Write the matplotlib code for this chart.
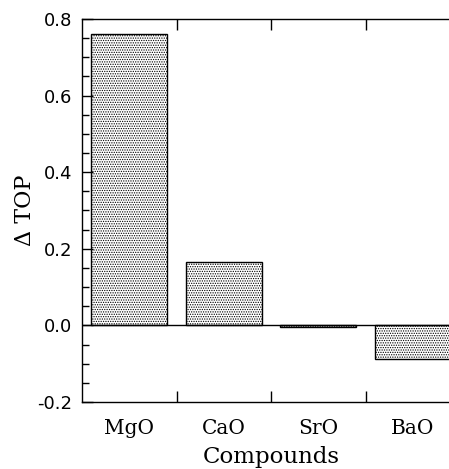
import numpy as np
import matplotlib
matplotlib.use('agg')
import matplotlib.pyplot as plt
from matplotlib.ticker import MultipleLocator, FixedLocator

# data
compounds = ['MgO', 'CaO', 'SrO', 'BaO']
delta_top = [0.761, 0.165, -0.004, -0.087]
ytick_vals = [-0.2, 0.0, 0.2, 0.4, 0.6, 0.8]

plt.rcParams['hatch.linewidth'] = 0.6
plt.rcParams['hatch.color'] = '#555555'

fig = plt.figure(figsize=(4.49, 4.69), dpi=100)
ax = fig.add_axes([82 / 449, 1 - 402 / 469, 378 / 449, 383 / 469])

x = np.arange(len(compounds))
ax.bar(x, delta_top, width=0.8, facecolor='white', edgecolor='black',
       linewidth=1.0, hatch='.......')
ax.axhline(0, color='black', linewidth=1.0)

ax.set_xlim(-0.5, 3.5)
ax.set_ylim(-0.2, 0.8)
ax.spines['right'].set_visible(False)
for s in ['left', 'top', 'bottom']:
    ax.spines[s].set_linewidth(1.0)

ax.set_yticks(ytick_vals)
ax.set_yticklabels(['%.1f' % v for v in ytick_vals],
                   family='DejaVu Sans', fontsize=13)
ax.yaxis.set_minor_locator(MultipleLocator(0.05))
ax.tick_params(axis='y', which='major', direction='in', length=8, width=1, pad=7)
ax.tick_params(axis='y', which='minor', direction='in', length=5, width=1)

ax.set_xticks(x)
ax.set_xticklabels(compounds, family='DejaVu Serif', fontsize=14.5)
ax.xaxis.set_minor_locator(FixedLocator([0.5, 1.5, 2.5]))
ax.tick_params(axis='x', which='major', length=0, pad=12)
ax.tick_params(axis='x', which='minor', direction='in', length=8, width=1,
               top=True, bottom=True)

ax.set_xlabel('Compounds', family='DejaVu Serif', fontsize=16.5, labelpad=6)
ax.set_ylabel('\u0394 TOP', family='DejaVu Serif', fontsize=16, labelpad=1)

fig.savefig('out.png', dpi=100)
